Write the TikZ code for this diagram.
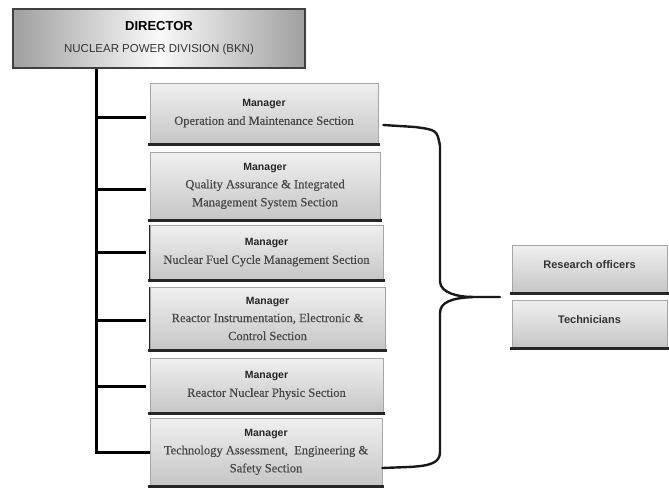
\documentclass[tikz,border=0pt]{standalone}
\usepackage{fontspec}
\setmainfont{Liberation Serif}
\setsansfont{Liberation Sans}
\newfontfamily\secfont[FakeBold=0.4]{Liberation Serif}
\begin{document}
\begin{tikzpicture}[x=1pt,y=-1pt,
  mgrbox/.style={draw=gray!70, line width=0.8pt, top color=gray!12, bottom color=gray!45,
    minimum width=#1, inner sep=0pt, align=center, font=\secfont\fontsize{12.5}{18}\selectfont\color{black!72}},
  mgrbox/.default=232pt,
  staffbox/.style={draw=gray!70, line width=0.8pt, top color=gray!12, bottom color=gray!45,
    minimum width=155pt, minimum height=48pt, inner sep=0pt, align=center,
    font=\sffamily\bfseries\fontsize{11}{12}\selectfont\color{black!80}},
  dirbox/.style={draw=black!75, line width=1.8pt, left color=gray!75, right color=gray!75, middle color=gray!5,
    minimum width=292pt, minimum height=59pt, inner sep=0pt, align=center,
    font=\sffamily\fontsize{11.5}{20}\selectfont},
  bottomedge/.style={line width=3.5pt, black!85},
  tree/.style={line width=3pt, black},
  bracket/.style={line width=2.4pt, black!90, line cap=round}
]
\useasboundingbox (0,0) rectangle (669,488);
\newcommand{\mgrtitle}{{\sffamily\bfseries\fontsize{10.5}{12}\selectfont\color{black!85}Manager}}

% Director
\node[dirbox] (dir) at (159,38.5) {\raisebox{3pt}{\bfseries\fontsize{13}{14}\selectfont DIRECTOR}\\[-1pt]\color{black!80}NUCLEAR POWER DIVISION (BKN)};

% Managers
\node[mgrbox=228pt, minimum height=61pt] (b1) at (264,113.5)
  {\mgrtitle\\Operation and Maintenance Section};
\node[mgrbox=230pt, minimum height=68pt] (b2) at (265,186)
  {\mgrtitle\\Quality Assurance \& Integrated\\Management System Section};
\node[mgrbox=233pt, minimum height=55pt] (b3) at (266.5,252.5)
  {\mgrtitle\\Nuclear Fuel Cycle Management Section};
\node[mgrbox=235pt, minimum height=63pt] (b4) at (267.5,318.5)
  {\mgrtitle\\Reactor Instrumentation, Electronic \&\\Control Section};
\node[mgrbox=233pt, minimum height=55pt] (b5) at (266.5,385.5)
  {\mgrtitle\\Reactor Nuclear Physic Section};
\node[mgrbox=232pt, minimum height=68pt] (b6) at (266,452)
  {\mgrtitle\\Technology Assessment,\ \ Engineering \&\\Safety Section};

% Staff
\node[staffbox] (ro) at (589.5,269) {\raisebox{8pt}{Research officers}};
\node[staffbox] (te) at (589.5,324) {\raisebox{8pt}{Technicians}};

% thick bottom edges
\foreach \n in {b1,b2,b3,b4,b5,b6,ro,te}
  \draw[bottomedge, shorten <=-1.5pt, shorten >=-1.5pt] (\n.south west) -- (\n.south east);
\foreach \n in {b3,b4}
  \draw[line width=1.6pt, black!85] (\n.south west) -- (\n.north west);

% tree
\coordinate (top) at ([xshift=-63pt]dir.south);
\coordinate (bot) at (b6.west -| top);
\draw[tree] (top) -- (bot) -- (b6.west);
\foreach \n/\dy in {b1/-4,b2/-3,b3/0,b4/-2,b5/-1}
  \draw[tree] ([yshift=\dy pt]\n.west -| top) -- ([xshift=-4pt,yshift=\dy pt]\n.west);

% bracket
\coordinate (tip) at (500,297);
\coordinate (apex) at (473,297);
\draw[bracket] ([xshift=5pt,yshift=-11.5pt]b1.east) -- (415,127) .. controls (437,130) .. (440,146)
  -- (440,282) .. controls (441,293) and (458,297) .. (apex) -- (tip);
\draw[bracket] (apex) .. controls (452,298) and (440,302) .. (440,313)
  -- (440,452) .. controls (440,463) and (430,466) .. (408,467) -- ([yshift=-16pt]b6.east);
\end{tikzpicture}
\end{document}
